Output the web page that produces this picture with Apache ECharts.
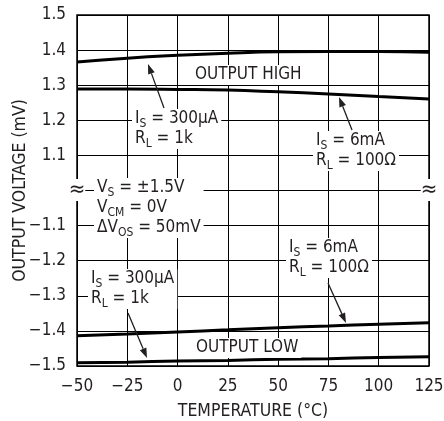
<!DOCTYPE html>
<html>
<head>
<meta charset="utf-8">
<script src="https://cdn.jsdelivr.net/npm/echarts@6/dist/echarts.min.js"></script>
<style>
  html, body { margin: 0; padding: 0; background: #fff; }
  #chart { width: 444px; height: 421px; }
</style>
</head>
<body>
<div id="chart"></div>
<script>
// temperature (°C)
var temps = [-50, -25, 0, 25, 50, 75, 100, 125];
// output voltage (mV)
var highIs300uA = [1.366, 1.377, 1.385, 1.391, 1.395, 1.396, 1.396, 1.394];
var highIs6mA = [1.289, 1.289, 1.288, 1.286, 1.281, 1.275, 1.268, 1.261];
var lowIs6mA = [-1.414, -1.409, -1.403, -1.397, -1.391, -1.386, -1.381, -1.377];
var lowIs300uA = [-1.491, -1.489, -1.486, -1.484, -1.481, -1.479, -1.476, -1.474];
// broken y axis: -1.5..-1.1, gap, 1.1..1.5
var yTickLabels = ['−1.5', '−1.4', '−1.3', '−1.2', '−1.1', '', '1.1', '1.2', '1.3', '1.4', '1.5'];

var FONT = '"Liberation Sans Narrow", "DejaVu Sans Condensed", sans-serif';
var INK = '#231f20';

// map mV onto the broken axis (one blank step between the halves)
function toAxis(v) {
  return v > 0 ? (v - 0.5) * 10 : (v + 1.5) * 10;
}
function pairs(vals) {
  return temps.map(function (t, i) { return [t, toAxis(vals[i])]; });
}

var rich = {
  n: { fontSize: 17, fontFamily: FONT, color: INK, lineHeight: 20 },
  s: { fontSize: 12, fontFamily: FONT, color: INK, lineHeight: 20, padding: [9, 0, 0, 0] }
};

function note(x, y, text) {
  return {
    type: 'text', x: x, y: y, z: 50,
    style: {
      text: text, rich: rich, fill: INK, font: '17px ' + FONT,
      align: 'left', verticalAlign: 'top',
      backgroundColor: '#fff', padding: [0, 3, 0, 3]
    }
  };
}

function arrow(x1, y1, x2, y2) {
  var a = Math.atan2(y2 - y1, x2 - x1), L = 10, W = 3.5;
  var bx = x2 - L * Math.cos(a), by = y2 - L * Math.sin(a);
  var px = -Math.sin(a) * W, py = Math.cos(a) * W;
  return [
    { type: 'line', z: 60, shape: { x1: x1, y1: y1, x2: bx, y2: by }, style: { stroke: INK, lineWidth: 1.3 } },
    { type: 'polygon', z: 60, shape: { points: [[x2, y2], [bx + px, by + py], [bx - px, by - py]] }, style: { fill: INK } }
  ];
}

var myChart = echarts.init(document.getElementById('chart'));

var graphics = [
  note(192, 65, '{n|OUTPUT HIGH}'),
  note(193, 338, '{n|OUTPUT LOW}'),
  note(132, 109, '{n|I}{s|S}{n| = 300µA}\n{n|R}{s|L}{n| = 1k}'),
  note(313, 131, '{n|I}{s|S}{n| = 6mA}\n{n|R}{s|L}{n| = 100Ω}'),
  note(94, 178, '{n|V}{s|S}{n| = ±1.5V}\n{n|V}{s|CM}{n| = 0V}\n{n|ΔV}{s|OS}{n| = 50mV}'),
  note(286, 238, '{n|I}{s|S}{n| = 6mA}\n{n|R}{s|L}{n| = 100Ω}'),
  note(88, 269, '{n|I}{s|S}{n| = 300µA}\n{n|R}{s|L}{n| = 1k}'),
  { type: 'text', x: 77, y: 190, z: 70, style: { text: '≈', font: '22px ' + FONT, fill: INK, align: 'center', verticalAlign: 'middle', backgroundColor: '#fff' } },
  { type: 'text', x: 429, y: 190, z: 70, style: { text: '≈', font: '22px ' + FONT, fill: INK, align: 'center', verticalAlign: 'middle', backgroundColor: '#fff' } }
]
  .concat(arrow(164, 108, 148, 64))
  .concat(arrow(352, 130, 339, 97))
  .concat(arrow(328, 283, 346, 323))
  .concat(arrow(128, 313, 147, 358));

function curve(name, vals) {
  return {
    name: name, type: 'line', data: pairs(vals), smooth: true,
    symbol: 'none', lineStyle: { color: '#000', width: 3 }, z: 10
  };
}

var option = {
  animation: false,
  backgroundColor: '#fff',
  grid: {
    left: 77, right: 15, top: 15, bottom: 55, containLabel: false, outerBoundsMode: 'none',
    show: true, borderColor: '#000', borderWidth: 1.5
  },
  xAxis: {
    type: 'value', min: -50, max: 125, interval: 25,
    name: 'TEMPERATURE (°C)', nameLocation: 'middle', nameGap: 36, nameMoveOverlap: false,
    nameTextStyle: { fontSize: 17.5, fontFamily: FONT, color: INK },
    axisLine: { show: false }, axisTick: { show: false },
    axisLabel: {
      margin: 12, fontSize: 17, fontFamily: FONT, color: INK,
      formatter: function (v) { return v < 0 ? '−' + Math.abs(v) : String(v); }
    },
    splitLine: { show: true, lineStyle: { color: '#000', width: 1 } }
  },
  yAxis: {
    type: 'value', min: 0, max: 10, interval: 1,
    name: 'OUTPUT VOLTAGE (mV)', nameLocation: 'middle', nameGap: 48, nameMoveOverlap: false,
    nameTextStyle: { fontSize: 17.5, fontFamily: FONT, color: INK },
    axisLine: { show: false }, axisTick: { show: false },
    axisLabel: {
      margin: 11, fontSize: 17, fontFamily: FONT, color: INK,
      formatter: function (v) { return yTickLabels[Math.round(v)]; }
    },
    splitLine: { show: true, lineStyle: { color: '#000', width: 1 } }
  },
  series: [
    curve('high 300uA', highIs300uA),
    curve('high 6mA', highIs6mA),
    curve('low 6mA', lowIs6mA),
    curve('low 300uA', lowIs300uA)
  ],
  graphic: graphics
};

myChart.setOption(option);
</script>
</body>
</html>
